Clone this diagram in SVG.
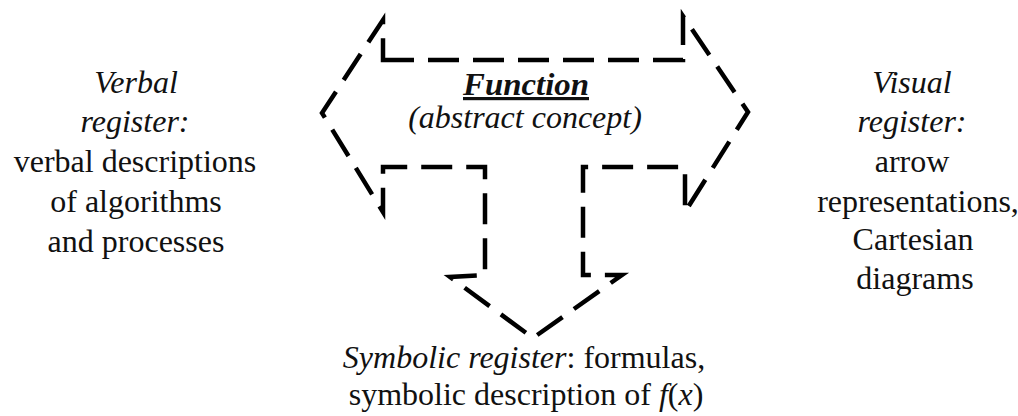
<svg xmlns="http://www.w3.org/2000/svg" width="1018" height="416" viewBox="0 0 1018 416">
<style>
text{font-size:32px;fill:#111;text-anchor:middle}
.it{font-style:italic}
.outline{fill:none;stroke:#000;stroke-width:4.5;stroke-dasharray:31 14;stroke-linejoin:miter}
</style>
<rect width="1018" height="416" fill="#fff"/>
<g id="connectors">
<path class="outline" d="M383,60 L683,60 L683,16 L748,112 L685,212 L685,167 L583,167 L583,275 L622,275 L533,338 L450,277 L485,275 L485,167 L383,167 L383,212 L322,113 L383,20 Z"/>
</g>
<g font-family="Liberation Serif, Tinos, Times New Roman, DejaVu Serif, serif">
<g id="function">
<text x="526" y="95" font-weight="bold" class="it" text-decoration="underline" textLength="126" lengthAdjust="spacingAndGlyphs">Function</text>
<text x="525" y="128" class="it">(abstract concept)</text>
</g>
<g id="verbal">
<text x="136" y="93" class="it">Verbal</text>
<text x="135" y="132" class="it">register:</text>
<text x="135" y="172">verbal descriptions</text>
<text x="136" y="212">of algorithms</text>
<text x="136" y="252">and processes</text>
</g>
<g id="visual">
<text x="912" y="93" class="it">Visual</text>
<text x="912" y="132" class="it">register:</text>
<text x="912" y="172">arrow</text>
<text x="918" y="212">representations,</text>
<text x="913" y="250">Cartesian</text>
<text x="915" y="289">diagrams</text>
</g>
<g id="symbolic">
<text x="524" y="368"><tspan class="it">Symbolic register</tspan>: formulas,</text>
<text x="526" y="405">symbolic description of <tspan class="it">f</tspan>(<tspan class="it">x</tspan>)</text>
</g>
</g>
</svg>
